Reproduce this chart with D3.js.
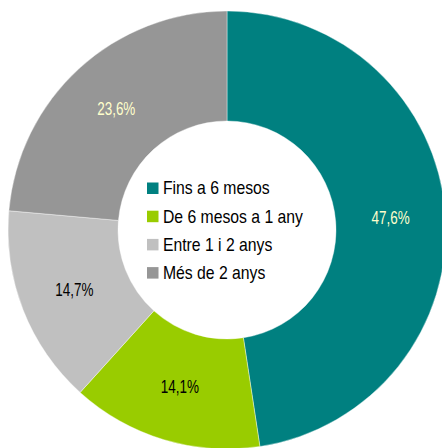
<!DOCTYPE html>
<html>
<head>
<meta charset="utf-8">
<script src="https://cdn.jsdelivr.net/npm/d3@7"></script>
<style>
  html, body { margin: 0; padding: 0; background: #fff; }
  svg { display: block; font-family: "Liberation Sans", Arial, sans-serif; }
</style>
</head>
<body>
<svg width="442" height="448"></svg>
<script>
const width = 442, height = 448;
const svg = d3.select("svg");

// Data
const categories = ["Fins a 6 mesos", "De 6 mesos a 1 any", "Entre 1 i 2 anys", "Més de 2 anys"];
const values = [47.6, 14.1, 14.7, 23.6];
const colors = ["#008080", "#99cc00", "#c0c0c0", "#969696"];
const labelColors = ["#ffffcc", "#000000", "#000000", "#ffffcc"];

const cx = 227, cy = 230, outerR = 219, innerR = 109;

const pie = d3.pie().sort(null).value(d => d.value);
const arcs = pie(categories.map((c, i) => ({ name: c, value: values[i], i })));

const arc = d3.arc().innerRadius(innerR).outerRadius(outerR);
const labelArc = d3.arc().innerRadius(164).outerRadius(164);

const g = svg.append("g").attr("transform", `translate(${cx},${cy})`);

g.selectAll("path")
  .data(arcs)
  .join("path")
  .attr("d", arc)
  .attr("fill", d => colors[d.data.i])
  .attr("stroke", "#ffffff")
  .attr("stroke-width", 0.4);

const fmt = v => d3.format(".1f")(v).replace(".", ",") + "%";

// value labels (condensed look)
g.selectAll("text.val")
  .data(arcs)
  .join("text")
  .attr("class", "val")
  .attr("transform", d => {
    const [x, y] = labelArc.centroid(d);
    return `translate(${x},${y}) scale(0.77,1)`;
  })
  .attr("text-anchor", "middle")
  .attr("dy", "0.35em")
  .attr("font-size", 17.5)
  .attr("fill", d => labelColors[d.data.i])
  .text(d => fmt(d.data.value));

// legend
const legend = svg.append("g").attr("transform", "translate(147,188)");
const rows = legend.selectAll("g")
  .data(categories)
  .join("g")
  .attr("transform", (d, i) => `translate(0,${i * 28.2})`);

rows.append("rect")
  .attr("x", 0).attr("y", -5.5)
  .attr("width", 11.5).attr("height", 11.5)
  .attr("fill", (d, i) => colors[i]);

rows.append("text")
  .attr("transform", "translate(16,0) scale(0.9,1)")
  .attr("dy", "0.36em")
  .attr("font-size", 17.5)
  .attr("fill", "#000")
  .text(d => d);
</script>
</body>
</html>
